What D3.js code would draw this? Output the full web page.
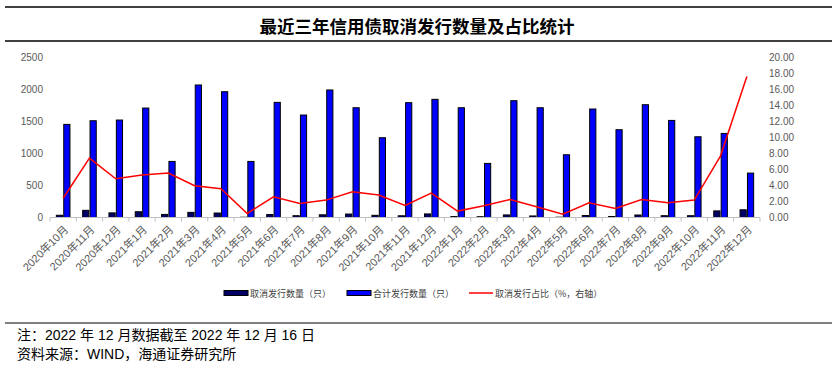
<!DOCTYPE html>
<html>
<head>
<meta charset="utf-8">
<script src="https://cdn.jsdelivr.net/npm/d3@7"></script>
<style>
  body { margin: 0; background: #fff; }
  svg { display: block; }
</style>
</head>
<body>
<svg id="chart" width="837" height="371"></svg>
<script>
// Months on the x axis
var months = ['2020年10月', '2020年11月', '2020年12月', '2021年1月', '2021年2月', '2021年3月',
  '2021年4月', '2021年5月', '2021年6月', '2021年7月', '2021年8月', '2021年9月', '2021年10月',
  '2021年11月', '2021年12月', '2022年1月', '2022年2月', '2022年3月', '2022年4月', '2022年5月',
  '2022年6月', '2022年7月', '2022年8月', '2022年9月', '2022年10月', '2022年11月', '2022年12月'];

// 取消发行数量（只）
var cancelled = [35, 112, 72, 90, 48, 80, 70, 4, 46, 28, 42, 54, 34, 27, 56, 14, 12, 40, 24, 5,
  31, 16, 39, 28, 28, 103, 120];

// 合计发行数量（只）
var issued = [1453, 1510, 1521, 1708, 875, 2068, 1963, 875, 1797, 1599, 1990, 1713, 1245,
  1792, 1844, 1713, 844, 1823, 1713, 979, 1693, 1370, 1760, 1515, 1260, 1312, 693];

// 取消发行占比（%，右轴）
var ratio = [2.4, 7.42, 4.83, 5.3, 5.54, 3.96, 3.58, 0.5, 2.58, 1.75, 2.17, 3.2, 2.8, 1.5,
  3.04, 0.8, 1.46, 2.25, 1.33, 0.42, 1.83, 1.13, 2.25, 1.83, 2.17, 7.7, 17.6];

var leftTicks = [0, 500, 1000, 1500, 2000, 2500];
var rightTicks = [0, 2, 4, 6, 8, 10, 12, 14, 16, 18, 20];

var svg = d3.select('#chart');
var width = 837, height = 371;
var plot = {left: 50, right: 760, top: 57.3, bottom: 217.5};
var axisFont = '"Liberation Sans", Arial, "Noto Sans CJK SC", sans-serif';

svg.append('rect').attr('width', width).attr('height', height).attr('fill', '#fff');

// Title block with rules above and below
svg.append('line').attr('x1', 5).attr('x2', 832).attr('y1', 7).attr('y2', 7)
    .attr('stroke', '#000').attr('stroke-width', 1.5);
svg.append('line').attr('x1', 5).attr('x2', 832).attr('y1', 41).attr('y2', 41)
    .attr('stroke', '#000').attr('stroke-width', 1.5);
svg.append('text')
    .attr('x', 417).attr('y', 25)
    .attr('text-anchor', 'middle').attr('dominant-baseline', 'central')
    .attr('font-family', '"Noto Sans CJK SC", sans-serif')
    .attr('font-weight', 'bold').attr('font-size', 17.5)
    .text('最近三年信用债取消发行数量及占比统计');

// Scales
var x = d3.scaleBand().domain(months).range([plot.left, plot.right]);
var yLeft = d3.scaleLinear().domain([0, 2500]).range([plot.bottom, plot.top]);
var yRight = d3.scaleLinear().domain([0, 20]).range([plot.bottom, plot.top]);

var barW = 6.2, gap = 1.2;

// Left axis labels (no axis line)
var gl = svg.append('g')
    .attr('transform', 'translate(' + (plot.left - 7) + ',0)')
    .call(d3.axisLeft(yLeft).tickValues(leftTicks).tickSize(0).tickPadding(0)
      .tickFormat(d3.format('d')));
gl.select('.domain').remove();
gl.selectAll('text').attr('fill', '#595959').attr('font-size', 10).attr('font-family', axisFont);

// Right axis labels
var gr = svg.append('g')
    .attr('transform', 'translate(' + (plot.right + 9) + ',0)')
    .call(d3.axisRight(yRight).tickValues(rightTicks).tickSize(0).tickPadding(0)
      .tickFormat(d3.format('.2f')));
gr.select('.domain').remove();
gr.selectAll('text').attr('fill', '#595959').attr('font-size', 10).attr('font-family', axisFont);

// Bars
var bars = svg.append('g');
bars.selectAll('rect.cancel')
    .data(cancelled)
    .enter().append('rect')
    .attr('class', 'cancel')
    .attr('x', function(d, i) { return x(months[i]) + x.bandwidth() / 2 - gap / 2 - barW; })
    .attr('y', function(d) { return yLeft(d); })
    .attr('width', barW)
    .attr('height', function(d) { return plot.bottom - yLeft(d); })
    .attr('fill', '#000066').attr('stroke', '#000').attr('stroke-width', 1);

bars.selectAll('rect.issued')
    .data(issued)
    .enter().append('rect')
    .attr('class', 'issued')
    .attr('x', function(d, i) { return x(months[i]) + x.bandwidth() / 2 + gap / 2; })
    .attr('y', function(d) { return yLeft(d); })
    .attr('width', barW)
    .attr('height', function(d) { return plot.bottom - yLeft(d); })
    .attr('fill', '#0000FF').attr('stroke', '#000').attr('stroke-width', 1);

// X axis
var gx = svg.append('g')
    .attr('transform', 'translate(0,' + plot.bottom + ')');
gx.append('line').attr('x1', plot.left).attr('x2', plot.right)
    .attr('stroke', '#bfbfbf').attr('stroke-width', 1);
gx.selectAll('line.tick')
    .data(d3.range(months.length + 1))
    .enter().append('line')
    .attr('class', 'tick')
    .attr('x1', function(i) { return plot.left + i * x.step(); })
    .attr('x2', function(i) { return plot.left + i * x.step(); })
    .attr('y1', 0).attr('y2', 4)
    .attr('stroke', '#bfbfbf').attr('stroke-width', 1);
gx.selectAll('text')
    .data(months)
    .enter().append('text')
    .attr('transform', function(d) {
      return 'translate(' + (x(d) + x.bandwidth() / 2 + 3) + ',10) rotate(-45)';
    })
    .attr('text-anchor', 'end')
    .attr('dominant-baseline', 'central')
    .attr('fill', '#595959')
    .attr('font-size', 11)
    .attr('font-family', axisFont)
    .text(function(d) { return d; });

// Ratio line on right axis
var line = d3.line()
    .x(function(d, i) { return x(months[i]) + x.bandwidth() / 2; })
    .y(function(d) { return yRight(d); });
svg.append('path')
    .datum(ratio)
    .attr('d', line)
    .attr('fill', 'none')
    .attr('stroke', '#FF0000')
    .attr('stroke-width', 1.5);

// Legend
var legend = [
  {label: '取消发行数量（只）', type: 'bar', fill: '#000066', x: 224},
  {label: '合计发行数量（只）', type: 'bar', fill: '#0000FF', x: 347},
  {label: '取消发行占比（%，右轴）', type: 'line', fill: '#FF0000', x: 469}
];
var lg = svg.append('g').attr('transform', 'translate(0,293)');
var items = lg.selectAll('g').data(legend).enter().append('g')
    .attr('transform', function(d) { return 'translate(' + d.x + ',0)'; });
items.filter(function(d) { return d.type === 'bar'; })
    .append('rect')
    .attr('x', 0).attr('y', -2.5).attr('width', 24).attr('height', 5)
    .attr('fill', function(d) { return d.fill; })
    .attr('stroke', '#000').attr('stroke-width', 1);
items.filter(function(d) { return d.type === 'line'; })
    .append('line')
    .attr('x1', 0).attr('x2', 24).attr('y1', 0).attr('y2', 0)
    .attr('stroke', function(d) { return d.fill; }).attr('stroke-width', 1.5);
items.append('text')
    .attr('x', 26).attr('y', 0)
    .attr('dominant-baseline', 'central')
    .attr('fill', '#404040')
    .attr('font-size', 9)
    .attr('font-family', '"Noto Sans CJK SC", sans-serif')
    .text(function(d) { return d.label; });

// Footer
svg.append('line').attr('x1', 5).attr('x2', 832).attr('y1', 323).attr('y2', 323)
    .attr('stroke', '#000').attr('stroke-width', 1);
var notes = ['注：2022 年 12 月数据截至 2022 年 12 月 16 日', '资料来源：WIND，海通证券研究所'];
svg.selectAll('text.note')
    .data(notes)
    .enter().append('text')
    .attr('class', 'note')
    .attr('x', 17)
    .attr('y', function(d, i) { return 335 + i * 19; })
    .attr('dominant-baseline', 'central')
    .attr('font-size', 14)
    .attr('font-family', axisFont)
    .attr('fill', '#000')
    .text(function(d) { return d; });
</script>
</body>
</html>
